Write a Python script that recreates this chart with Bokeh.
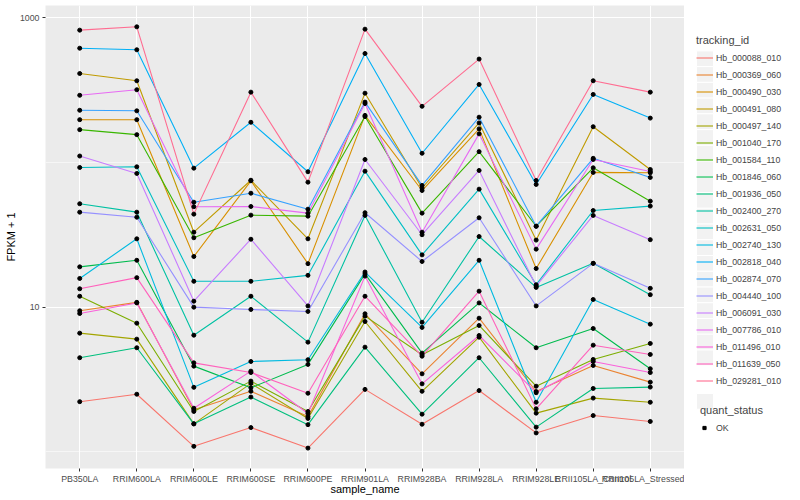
from bokeh.plotting import figure
from bokeh.layouts import row
from bokeh.models import Legend, LegendItem, FixedTicker, NumeralTickFormatter, Range1d
from bokeh.embed import file_html
from bokeh.resources import INLINE

samples = ["PB350LA", "RRIM600LA", "RRIM600LE", "RRIM600SE", "RRIM600PE", "RRIM901LA",
           "RRIM928BA", "RRIM928LA", "RRIM928LE", "RRII105LA_Control", "RRII105LA_Stressed"]

tracking_ids = ["Hb_000088_010", "Hb_000369_060", "Hb_000490_030", "Hb_000491_080", "Hb_000497_140",
                "Hb_001040_170", "Hb_001584_110", "Hb_001846_060", "Hb_001936_050", "Hb_002400_270",
                "Hb_002631_050", "Hb_002740_130", "Hb_002818_040", "Hb_002874_070", "Hb_004440_100",
                "Hb_006091_030", "Hb_007786_010", "Hb_011496_010", "Hb_011639_050", "Hb_029281_010"]

colors = ["#F8766D", "#EA8331", "#D89000", "#C09B00", "#A3A500", "#7CAE00", "#39B600", "#00BB4E",
          "#00BF7D", "#00C1A3", "#00BFC4", "#00BAE0", "#00B0F6", "#35A2FF", "#9590FF", "#C77CFF",
          "#E76BF3", "#FA62DB", "#FF62BC", "#FF6C91"]

# FPKM + 1 per sample (order of `samples`)
hb_000088_010 = [2.22, 2.50, 1.09, 1.47, 1.06, 2.70, 1.55, 2.65, 1.35, 1.78, 1.62]
hb_000369_060 = [9.44, 10.8, 1.95, 2.62, 1.75, 9.00, 3.46, 8.39, 2.61, 3.95, 3.03]
hb_000490_030 = [198, 198, 22.4, 74.8, 20.0, 212, 64.1, 171, 18.5, 85.5, 85.0]
hb_000491_080 = [413, 368, 33.0, 75.5, 29.7, 302, 66.7, 188, 29.1, 177, 89.6]
hb_000497_140 = [6.61, 6.01, 1.56, 2.97, 1.70, 7.96, 2.62, 6.20, 1.85, 2.35, 2.20]
hb_001040_170 = [11.9, 7.75, 1.90, 3.08, 1.90, 8.67, 4.69, 7.47, 2.84, 4.35, 5.61]
hb_001584_110 = [169, 156, 30.2, 43.3, 42.6, 208, 44.7, 119, 36.3, 92.0, 54.1]
hb_001846_060 = [19.0, 21.1, 3.91, 2.77, 4.02, 17.0, 4.81, 10.7, 5.24, 7.12, 3.75]
hb_001936_050 = [4.47, 5.24, 1.56, 2.39, 1.54, 5.29, 1.82, 4.47, 1.48, 2.74, 2.80]
hb_002400_270 = [51.9, 45.4, 6.40, 11.9, 5.73, 43.1, 7.87, 30.8, 13.7, 20.1, 12.2]
hb_002631_050 = [92.5, 93.5, 15.1, 15.1, 16.6, 87.2, 23.0, 65.5, 14.3, 46.6, 50.0]
hb_002740_130 = [15.8, 29.7, 2.79, 4.21, 4.33, 17.5, 7.24, 21.1, 2.20, 11.3, 7.63]
hb_002818_040 = [618, 603, 91.5, 190, 86.4, 568, 116, 347, 70.6, 296, 203]
hb_002874_070 = [230, 228, 53.2, 61.4, 47.6, 262, 69.5, 206, 36.3, 107, 78.9]
hb_004440_100 = [45.4, 41.9, 10.0, 9.64, 9.34, 45.0, 20.7, 41.5, 10.2, 20.1, 13.5]
hb_006091_030 = [111, 84.1, 11.0, 29.5, 10.2, 105, 31.7, 88.2, 14.0, 43.1, 29.3]
hb_007786_010 = [292, 319, 49.5, 49.7, 44.7, 256, 33.0, 158, 25.2, 105, 86.8]
hb_011496_010 = [9.04, 10.7, 2.00, 3.61, 1.84, 16.4, 2.95, 6.37, 2.56, 4.21, 3.53]
hb_011639_050 = [13.4, 16.0, 4.12, 3.53, 2.54, 11.9, 4.58, 12.9, 1.98, 5.46, 4.71]
hb_029281_010 = [824, 869, 44.0, 307, 73.2, 837, 245, 520, 75.2, 368, 307]

series = [hb_000088_010, hb_000369_060, hb_000490_030, hb_000491_080, hb_000497_140,
          hb_001040_170, hb_001584_110, hb_001846_060, hb_001936_050, hb_002400_270,
          hb_002631_050, hb_002740_130, hb_002818_040, hb_002874_070, hb_004440_100,
          hb_006091_030, hb_007786_010, hb_011496_010, hb_011639_050, hb_029281_010]

quant_status = ["OK"]

y_major = [10, 1000]
y_minor = [1, 100]

FONT = "Liberation Sans"
xs = list(range(1, len(samples) + 1))
all_x = [x for vals in series for x in xs]
all_y = [v for vals in series for v in vals]

FRAME_W, FRAME_H = 639, 463
LEFT, TOP, BOTTOM = 45, 5, 32

p = figure(frame_width=FRAME_W, frame_height=FRAME_H, y_axis_type="log",
           x_range=Range1d(0.4, len(samples) + 0.6), y_range=Range1d(0.766, 1220),
           output_backend="svg", toolbar_location=None,
           min_border_left=LEFT, min_border_right=0, min_border_top=TOP, min_border_bottom=BOTTOM)

p.background_fill_color = "#EBEBEB"
p.border_fill_color = "white"
p.outline_line_color = None

xt = FixedTicker(ticks=xs)
yt = FixedTicker(ticks=y_major, minor_ticks=y_minor)
p.xaxis.ticker = xt
p.yaxis.ticker = yt
p.xgrid.ticker = xt
p.ygrid.ticker = yt
p.xaxis.major_label_overrides = {x: s for x, s in zip(xs, samples)}
p.yaxis.formatter = NumeralTickFormatter(format="0")

for g in (p.xgrid, p.ygrid):
    g.grid_line_color = "white"
    g.grid_line_width = 1.1
p.ygrid.minor_grid_line_color = "white"
p.ygrid.minor_grid_line_width = 0.55

for ax in (p.xaxis[0], p.yaxis[0]):
    ax.axis_line_color = None
    ax.major_tick_line_color = "#333333"
    ax.major_tick_out = 3
    ax.major_tick_in = 0
    ax.minor_tick_line_color = None
    ax.major_label_text_font = FONT
    ax.major_label_text_font_size = "8.8px"
    ax.major_label_text_color = "#4D4D4D"
    ax.axis_label_text_font = FONT
    ax.axis_label_text_font_size = "11px"
    ax.axis_label_text_font_style = "normal"
    ax.axis_label_text_color = "black"
    ax.major_label_standoff = 2
    ax.axis_label_standoff = 0
p.xaxis.axis_label_standoff = -4

p.xaxis.axis_label = "sample_name"
p.yaxis.axis_label = "FPKM + 1"

for vals, col in zip(series, colors):
    p.line(xs, vals, line_color=col, line_width=1.1)

p.scatter(all_x, all_y, size=4, color="black")

# ---- legend panel (separate figure; pixel coordinates measured from its top) ----
LEG_W = 110
H = TOP + FRAME_H + BOTTOM
X0 = 1000  # panel x range is far from the data so the key renderers stay out of sight
lg = figure(width=LEG_W, height=H, x_range=Range1d(X0, X0 + LEG_W), y_range=Range1d(H, 0),
            output_backend="svg", toolbar_location=None, min_border=0)
lg.axis.visible = False
lg.grid.visible = False
lg.outline_line_color = None
lg.background_fill_color = "white"
lg.border_fill_color = "white"

KEY_X, KEY_W, KEY_H = 12, 17, 17
FIRST_KEY_TOP = 49
OK_KEY_TOP = 419
LEG_SHIFT = 32
LABEL_STANDOFF = 3
DOT_W = 8  # narrower glyph box for the point key -> smaller marker

n = len(tracking_ids)
key_tops = [FIRST_KEY_TOP + KEY_H * i for i in range(n)] + [OK_KEY_TOP]
lg.quad(left=[X0 + KEY_X] * len(key_tops), right=[X0 + KEY_X + KEY_W] * len(key_tops),
        top=key_tops, bottom=[t + KEY_H for t in key_tops],
        fill_color="#F2F2F2", line_color="white", line_width=1)

line_items = []
for tid, vals, col in zip(tracking_ids, series, colors):
    r = lg.line(xs, vals, line_color=col, line_width=1.1)
    line_items.append(LegendItem(label=tid, renderers=[r]))
ok_r = lg.scatter(all_x, all_y, size=3.5, color="black", marker="square")

def style(leg):
    leg.title_text_font = FONT
    leg.title_text_font_size = "11px"
    leg.title_text_font_style = "normal"
    leg.label_text_font = FONT
    leg.label_text_font_size = "8.8px"
    leg.glyph_width = KEY_W
    leg.glyph_height = KEY_H
    leg.label_height = KEY_H
    leg.label_standoff = LABEL_STANDOFF
    leg.spacing = 0
    leg.padding = 0
    leg.margin = 0
    leg.title_standoff = 3
    leg.border_line_color = None
    leg.background_fill_alpha = 0

leg1 = Legend(items=line_items, title="tracking_id",
              location=(KEY_X, H - (FIRST_KEY_TOP + KEY_H * n) - LEG_SHIFT))
style(leg1)
lg.add_layout(leg1)

dot_off = (KEY_W - DOT_W) // 2
leg2 = Legend(items=[LegendItem(label=quant_status[0], renderers=[ok_r])], title="quant_status",
              location=(KEY_X + dot_off, H - (OK_KEY_TOP + KEY_H) - LEG_SHIFT))
style(leg2)
leg2.glyph_width = DOT_W
leg2.label_standoff = LABEL_STANDOFF + (KEY_W - DOT_W) - dot_off
lg.add_layout(leg2)

layout = row(p, lg)
open("out.html", "w").write(file_html(layout, INLINE))
